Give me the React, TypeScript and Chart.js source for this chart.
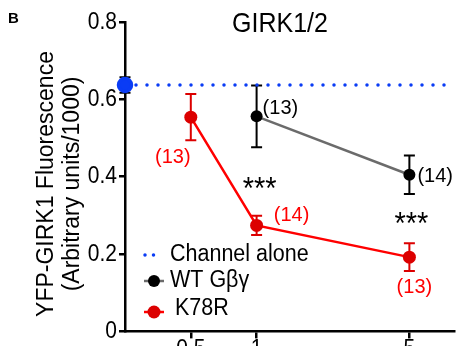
import React, { useEffect, useRef } from "react";
import { Chart, registerables } from "chart.js";

Chart.register(...registerables);

const FONT = "'Liberation Sans', Arial, Helvetica, sans-serif";

// Data
const xTicks = [0.5, 1, 5];
const xMin = 0.25;
const xMax = 8;
const yTicks = [0, 0.2, 0.4, 0.6, 0.8];
const yTickLabels = ["0", "0.2", "0.4", "0.6", "0.8"];
const xTickLabels = ["0.5", "1", "5"];

const channelAloneMean = 0.637;
const channelAloneSem = 0.02;

const wtX = [1, 5];
const wtMean = [0.556, 0.405];
const wtSem = [0.08, 0.05];
const wtN = ["(13)", "(14)"];

const k78rX = [0.5, 1, 5];
const k78rMean = [0.554, 0.274, 0.192];
const k78rSem = [0.06, 0.025, 0.036];
const k78rN = ["(13)", "(14)", "(13)"];

const sigX = [1, 5];
const sigLabels = ["***", "***"];

const legendLabels = ["Channel alone", "WT G\u03b2\u03b3", "K78R"];

const BLUE = "#0a3cf5";
const RED_LINE = "#ff0000";
const RED_PT = "#dc0000";
const GREY = "#6b6b6b";

function sText(
  ctx: CanvasRenderingContext2D,
  text: string,
  x: number,
  y: number,
  sy: number,
  align: CanvasTextAlign,
  baseline: CanvasTextBaseline
) {
  ctx.save();
  ctx.translate(x, y);
  ctx.scale(1, sy);
  ctx.textAlign = align;
  ctx.textBaseline = baseline;
  ctx.fillText(text, 0, 0);
  ctx.restore();
}

export default function App() {
  const ref = useRef<HTMLCanvasElement | null>(null);

  useEffect(() => {
    const canvas = ref.current;
    if (!canvas) return;

    const plugin = {
      id: "custom",
      beforeDatasetsDraw(chart: any) {
        const ctx = chart.ctx;
        const xs = chart.scales.x;
        const ys = chart.scales.y;
        const drawErr = (x: number, m: number, s: number, color: string) => {
          const px = xs.getPixelForValue(x);
          const top = ys.getPixelForValue(m + s);
          const bot = ys.getPixelForValue(m - s);
          ctx.save();
          ctx.strokeStyle = color;
          ctx.lineWidth = 2;
          ctx.beginPath();
          ctx.moveTo(px, top);
          ctx.lineTo(px, bot);
          ctx.moveTo(px - 5.5, top);
          ctx.lineTo(px + 5.5, top);
          ctx.moveTo(px - 5.5, bot);
          ctx.lineTo(px + 5.5, bot);
          ctx.stroke();
          ctx.restore();
        };
        drawErr(xMin, channelAloneMean, channelAloneSem, "#000");
        wtX.forEach((x, i) => drawErr(x, wtMean[i], wtSem[i], "#000"));
        k78rX.forEach((x, i) => drawErr(x, k78rMean[i], k78rSem[i], RED_PT));
      },
      afterDraw(chart: any) {
        const ctx = chart.ctx as CanvasRenderingContext2D;
        const xs = chart.scales.x;
        const ys = chart.scales.y;
        const area = chart.chartArea;
        ctx.save();
        ctx.fillStyle = "#000";

        // tick labels
        ctx.font = `21px ${FONT}`;
        yTicks.forEach((v, i) => {
          sText(ctx, yTickLabels[i], area.left - 8, ys.getPixelForValue(v), 1.15, "right", "middle");
        });
        xTicks.forEach((v, i) => {
          sText(ctx, xTickLabels[i], xs.getPixelForValue(v), area.bottom + 5.5, 1.15, "center", "top");
        });

        // panel letter
        ctx.font = `bold 15px ${FONT}`;
        sText(ctx, "B", 8, 23, 1, "left", "alphabetic");
        // title
        ctx.font = `25px ${FONT}`;
        sText(ctx, "GIRK1/2", 280, 32, 1.12, "center", "alphabetic");
        // y title
        ctx.font = `23px ${FONT}`;
        ctx.textAlign = "center";
        ctx.textBaseline = "alphabetic";
        ctx.save();
        ctx.translate(53, 184);
        ctx.rotate(-Math.PI / 2);
        ctx.fillText("YFP-GIRK1 Fluorescence", 0, 0);
        ctx.restore();
        ctx.save();
        ctx.translate(79, 184);
        ctx.rotate(-Math.PI / 2);
        ctx.fillText("(Arbitrary units/1000)", 0, 0);
        ctx.restore();

        // n labels
        ctx.font = `20px ${FONT}`;
        ctx.fillStyle = "#000";
        const wtOff = [
          [6, -8],
          [8, 2],
        ];
        wtX.forEach((x, i) => {
          sText(
            ctx,
            wtN[i],
            xs.getPixelForValue(x) + wtOff[i][0],
            ys.getPixelForValue(wtMean[i]) + wtOff[i][1],
            1.03,
            "left",
            "middle"
          );
        });
        ctx.fillStyle = RED_LINE;
        const rOff = [
          [-18, 40],
          [35, -10],
          [5, 30],
        ];
        k78rX.forEach((x, i) => {
          sText(
            ctx,
            k78rN[i],
            xs.getPixelForValue(x) + rOff[i][0],
            ys.getPixelForValue(k78rMean[i]) + rOff[i][1],
            1.03,
            "center",
            "middle"
          );
        });
        // significance
        ctx.fillStyle = "#000";
        ctx.font = `29px ${FONT}`;
        const sOff = [
          [3, 199],
          [2, 234],
        ];
        sigX.forEach((x, i) => {
          sText(ctx, sigLabels[i], xs.getPixelForValue(x) + sOff[i][0], sOff[i][1], 1.1, "center", "alphabetic");
        });

        // legend
        ctx.font = `21.5px ${FONT}`;
        // channel alone
        ctx.save();
        ctx.strokeStyle = BLUE;
        ctx.lineWidth = 3.5;
        ctx.lineCap = "round";
        ctx.setLineDash([0, 8.5]);
        ctx.beginPath();
        ctx.moveTo(145, 255);
        ctx.lineTo(162, 255);
        ctx.stroke();
        ctx.restore();
        ctx.fillStyle = "#000";
        sText(ctx, legendLabels[0], 170, 254, 1.1, "left", "middle");
        // WT
        ctx.strokeStyle = GREY;
        ctx.lineWidth = 2.5;
        ctx.beginPath();
        ctx.moveTo(144, 281);
        ctx.lineTo(164, 281);
        ctx.stroke();
        ctx.fillStyle = "#000";
        ctx.beginPath();
        ctx.arc(154, 281, 6, 0, Math.PI * 2);
        ctx.fill();
        sText(ctx, legendLabels[1], 170, 280, 1.1, "left", "middle");
        // K78R
        ctx.strokeStyle = RED_LINE;
        ctx.lineWidth = 2.5;
        ctx.beginPath();
        ctx.moveTo(144, 312);
        ctx.lineTo(164, 312);
        ctx.stroke();
        ctx.fillStyle = RED_PT;
        ctx.beginPath();
        ctx.arc(154, 312, 6.5, 0, Math.PI * 2);
        ctx.fill();
        ctx.fillStyle = "#000";
        sText(ctx, legendLabels[2], 175, 308.5, 1.1, "left", "middle");
        ctx.restore();
      },
    };

    const chart = new Chart(canvas, {
      type: "line",
      data: {
        datasets: [
          {
            label: legendLabels[0],
            data: [
              { x: xMin, y: channelAloneMean },
              { x: xMax, y: channelAloneMean },
            ],
            borderColor: BLUE,
            backgroundColor: BLUE,
            borderWidth: 3.5,
            borderDash: [0, 11],
            borderCapStyle: "round",
            pointRadius: [6.5, 0],
            pointHoverRadius: 0,
            pointBackgroundColor: BLUE,
            pointBorderColor: BLUE,
            clip: false,
            order: 3,
          },
          {
            label: legendLabels[1],
            data: wtX.map((x, i) => ({ x, y: wtMean[i] })),
            borderColor: GREY,
            borderWidth: 2.5,
            pointRadius: 6,
            pointBackgroundColor: "#000",
            pointBorderColor: "#000",
            pointBorderWidth: 0,
            clip: false,
            order: 2,
          },
          {
            label: legendLabels[2],
            data: k78rX.map((x, i) => ({ x, y: k78rMean[i] })),
            borderColor: RED_LINE,
            borderWidth: 2.5,
            pointRadius: 6.5,
            pointBackgroundColor: RED_PT,
            pointBorderColor: RED_PT,
            pointBorderWidth: 0,
            clip: false,
            order: 1,
          },
        ],
      },
      options: {
        responsive: false,
        animation: false,
        devicePixelRatio: 1,
        layout: { padding: { top: 22, left: 0, right: 0, bottom: 0 } },
        plugins: {
          legend: { display: false },
          tooltip: { enabled: false },
          title: { display: false },
        },
        scales: {
          x: {
            type: "logarithmic",
            min: xMin,
            max: xMax,
            afterBuildTicks: (axis: any) => {
              axis.ticks = xTicks.map((v) => ({ value: v }));
            },
            afterFit: (scale: any) => {
              scale.height = 14;
            },
            ticks: {
              autoSkip: false,
              maxRotation: 0,
              padding: 2,
              color: "rgba(0,0,0,0)",
              font: { family: FONT, size: 21 },
              callback: (v: any) => String(v),
            },
            grid: {
              display: true,
              drawOnChartArea: false,
              drawTicks: true,
              tickLength: 7,
              color: "#000",
              lineWidth: 2.5,
            },
            border: { display: true, color: "#000", width: 2.5 },
          },
          y: {
            min: 0,
            max: 0.8,
            afterBuildTicks: (axis: any) => {
              axis.ticks = yTicks.map((v) => ({ value: v }));
            },
            afterFit: (scale: any) => {
              scale.width = 125;
            },
            ticks: {
              padding: 2,
              color: "rgba(0,0,0,0)",
              font: { family: FONT, size: 21 },
            },
            grid: {
              display: true,
              drawOnChartArea: false,
              drawTicks: true,
              tickLength: 6,
              color: "#000",
              lineWidth: 2.5,
            },
            border: { display: true, color: "#000", width: 2.5 },
          },
        },
      },
      plugins: [plugin],
    } as any);

    return () => chart.destroy();
  }, []);

  return (
    <div
      style={{
        position: "absolute",
        left: 0,
        top: 0,
        width: 464,
        height: 346,
        overflow: "hidden",
        background: "#fff",
      }}
    >
      <canvas ref={ref} width={464} height={346} style={{ display: "block" }} />
    </div>
  );
}
